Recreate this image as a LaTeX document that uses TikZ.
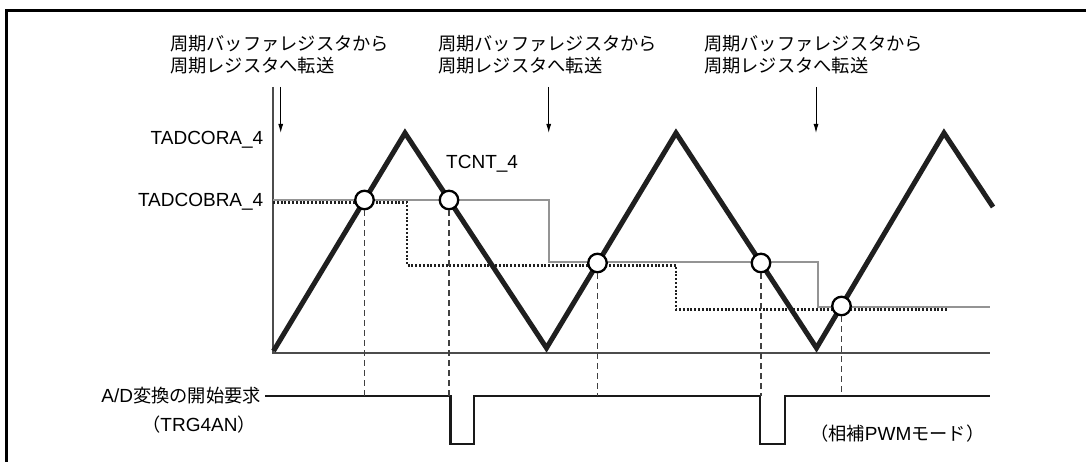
\documentclass[tikz,border=0pt]{standalone}
\usepackage{fontspec}
\setmainfont{Liberation Sans}
\newfontfamily\jpfont[Scale=0.96]{Noto Sans CJK JP}
\usetikzlibrary{arrows.meta}

\begin{document}
\begin{tikzpicture}[x=1pt,y=-1pt,
    wave/.style={line width=5pt,color=black!88,line join=miter},
    buf/.style={line width=2pt,color=black!42},
    cmp/.style={dash pattern=on 2pt off 1.8pt,line width=2.2pt,color=black!88},
    axis/.style={line width=1.2pt,color=black!70},
    hit/.style={circle,draw,fill=white,line width=2.3pt,minimum size=18.5pt,inner sep=0pt},
    drop/.style={dash pattern=on 6pt off 4pt,line width=1.2pt,color=black!75},
    trig/.style={line width=2.5pt,color=black!90},
    xfer/.style={line width=1pt,-{Latex[length=9pt,width=5pt]}},
    lbl/.style={font=\fontsize{19}{21.7}\selectfont,inner sep=0pt}]
    \useasboundingbox (0,0) rectangle (1086,462);
    \draw[line width=2.5pt] (6.3,462) -- (6.3,10.3) -- (1086,10.3);
    % transfer labels and arrows
    \node[lbl,align=left,anchor=west] (t1) at (170,55) {\jpfont 周期バッファレジスタから\\\jpfont 周期レジスタへ転送};
    \node[lbl,align=left,anchor=west] (t2) at (438,55) {\jpfont 周期バッファレジスタから\\\jpfont 周期レジスタへ転送};
    \node[lbl,align=left,anchor=west] (t3) at (704,55) {\jpfont 周期バッファレジスタから\\\jpfont 周期レジスタへ転送};
    \coordinate (a1) at (280.7,87);  \coordinate (b1) at (280.7,133);
    \coordinate (a2) at (548.7,87);  \coordinate (b2) at (548.7,133);
    \coordinate (a3) at (816,87);    \coordinate (b3) at (816,133);
    \draw[xfer] (a1) -- (b1);
    \draw[xfer] (a2) -- (b2);
    \draw[xfer] (a3) -- (b3);
    % axes
    \coordinate (o) at (273,353);
    \draw[axis] (273,87) -- (o) -- (990,353);
    \node[lbl,anchor=base east] (cora) at (263.5,145) {TADCORA\_4};
    \node[lbl,anchor=base east] (cobra) at (263.5,207) {TADCOBRA\_4};
    \node[lbl,anchor=base west] (tcnt) at (446,169) {TCNT\_4};
    % buffer and compare levels
    \draw[buf] (273,200) -- (549,200) -- (549,262.3) -- (817.7,262.3) -- (817.7,307.3) -- (990,307.3);
    \draw[cmp] (273,202.5) -- (407,202.5) -- (407,265.5) -- (676,265.5) -- (676,309.5) -- (948,309.5);
    % counter
    \draw[wave] (273.5,351) -- (405,133) -- (546.5,348) -- (676,133) -- (816.5,348) -- (944,133) -- (993,207);
    % trigger signal
    \coordinate (sig) at (990,396);
    \node[lbl,anchor=base east] (adreq) at (261,402) {A/D{\jpfont 変換の開始要求}};
    \node[lbl,anchor=base east] (trg) at (256,431) {{\jpfont （}TRG4AN{\jpfont ）}};
    \draw[trig] ([xshift=4pt]adreq.east |- sig) -- (450.5,396) -- (450.5,444) -- (474,444) -- (474,396)
      -- (760,396) -- (760,444) -- (785,444) -- (785,396) -- (sig);
    \node[lbl,anchor=base west] (mode) at (810,440) {{\jpfont （相補}PWM{\jpfont モード）}};
    % compare match points
    \node[hit] (c1) at (364.5,200) {};
    \node[hit] (c2) at (449,200) {};
    \node[hit] (c3) at (597.5,263) {};
    \node[hit] (c4) at (761,263) {};
    \node[hit] (c5) at (841.5,306) {};
    \foreach \c in {c1,c2,c3,c4,c5}
      \draw[drop] (\c.south) -- (\c.south |- sig);
  \end{tikzpicture}
\end{document}
